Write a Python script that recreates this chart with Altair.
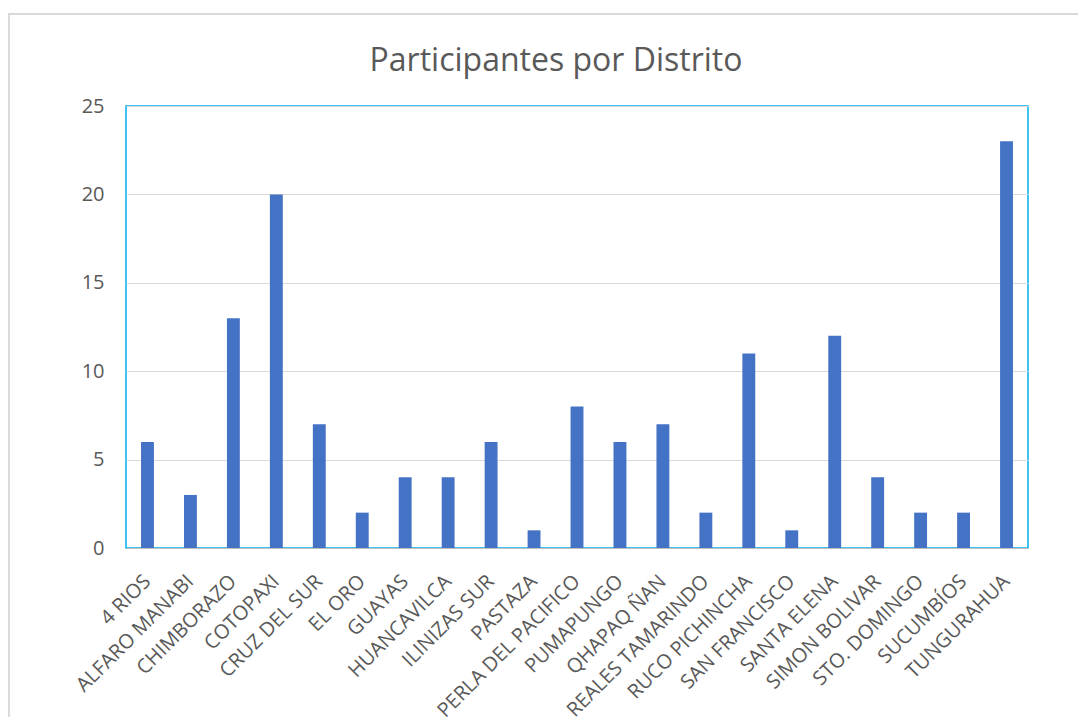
import altair as alt
import pandas as pd

distritos = ["4 RIOS", "ALFARO MANABI", "CHIMBORAZO", "COTOPAXI", "CRUZ DEL SUR",
             "EL ORO", "GUAYAS", "HUANCAVILCA", "ILINIZAS SUR", "PASTAZA",
             "PERLA DEL PACIFICO", "PUMAPUNGO", "QHAPAQ ÑAN", "REALES TAMARINDO",
             "RUCO PICHINCHA", "SAN FRANCISCO", "SANTA ELENA", "SIMON BOLIVAR",
             "STO. DOMINGO", "SUCUMBÍOS", "TUNGURAHUA"]
participantes = [6, 3, 13, 20, 7, 2, 4, 4, 6, 1, 8, 6, 7, 2, 11, 1, 12, 4, 2, 2, 23]
y_ticks = [0, 5, 10, 15, 20, 25]

df = pd.DataFrame({"Distrito": distritos, "Participantes": participantes})

FONT = "Open Sans"
TXT = "#595959"

bars = alt.Chart(df).mark_bar(color="#4472C4").encode(
    x=alt.X("Distrito:N", sort=distritos, title=None,
            scale=alt.Scale(paddingInner=0.7, paddingOuter=0.35),
            axis=alt.Axis(labelAngle=-45, labelAlign="right", labelBaseline="middle",
                          labelFontSize=20, labelColor=TXT, labelFont=FONT,
                          ticks=False, domainColor="#BFBFBF", domainWidth=1,
                          labelPadding=30, labelOverlap=False, labelLimit=400)),
    y=alt.Y("Participantes:Q", title=None,
            scale=alt.Scale(domain=[0, 25], nice=False),
            axis=alt.Axis(values=y_ticks, labelFontSize=20, labelColor=TXT, labelFont=FONT,
                          ticks=False, domain=False, gridColor="#D9D9D9", gridWidth=1,
                          labelPadding=22)),
)

frame = alt.Chart(df).mark_rect(fill=None, stroke="#D9D9D9", strokeWidth=1.5, clip=False).encode(
    x=alt.value(-117.5), x2=alt.value(1000), y=alt.value(-92), y2=alt.value(700)
)

chart = alt.layer(frame, bars).properties(
    width=902, height=442,
    title=alt.TitleParams("Participantes por Distrito", fontSize=32, font=FONT,
                          fontWeight="normal", color=TXT, offset=-65, anchor="middle",
                          frame="group", dx=-21),
    autosize=alt.AutoSizeParams(type="none"),
    padding={"left": 118, "top": 98, "right": 50, "bottom": 169},
).configure_view(stroke="#00B0F0", strokeWidth=1.5)

chart.save("out.html", embed_options={"renderer": "svg", "actions": False})
